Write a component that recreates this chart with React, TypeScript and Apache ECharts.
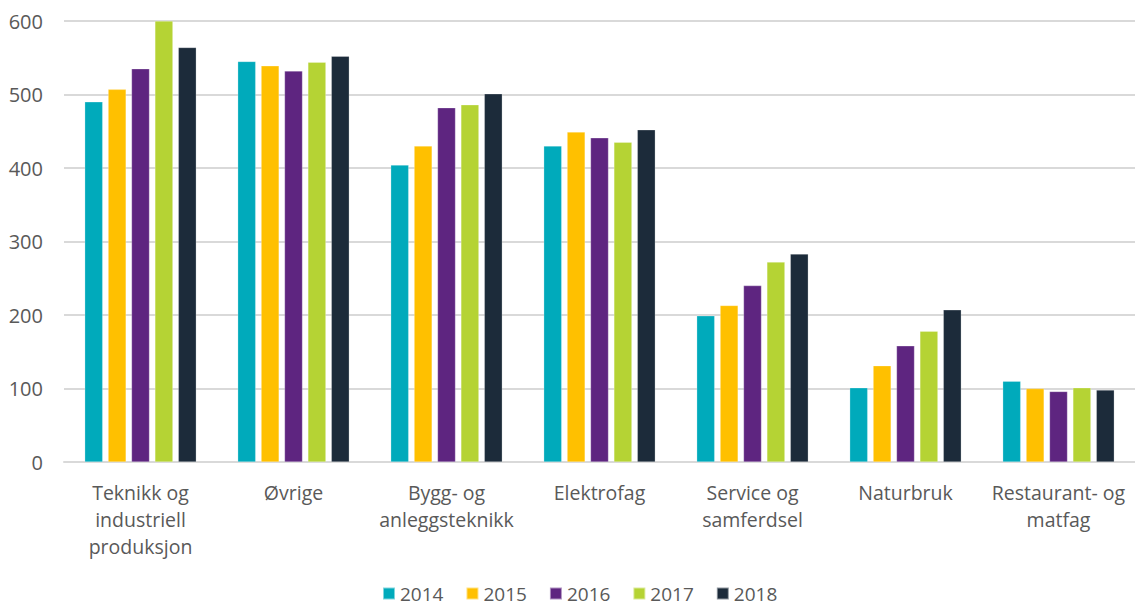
import React, { useEffect, useRef } from "react";
import * as echarts from "echarts";

const categories = [
  "Teknikk og\nindustriell\nproduksjon",
  "Øvrige",
  "Bygg- og\nanleggsteknikk",
  "Elektrofag",
  "Service og\nsamferdsel",
  "Naturbruk",
  "Restaurant- og\nmatfag",
];
const years = ["2014", "2015", "2016", "2017", "2018"];
const v2014 = [490, 545, 404, 430, 199, 101, 110];
const v2015 = [507, 539, 430, 449, 213, 131, 100];
const v2016 = [535, 532, 482, 441, 240, 158, 96];
const v2017 = [600, 544, 486, 435, 272, 178, 101];
const v2018 = [564, 552, 501, 452, 283, 207, 98];
const seriesValues = [v2014, v2015, v2016, v2017, v2018];
const colors = ["#00AABB", "#FFC000", "#5E2580", "#B5D334", "#1C2B3A"];
const yTicks = [0, 100, 200, 300, 400, 500, 600];

const FONT = "'Open Sans', 'Noto Sans', sans-serif";

export default function App() {
  const ref = useRef<HTMLDivElement>(null);
  useEffect(() => {
    if (!ref.current) return;
    const chart = echarts.init(ref.current, null, { renderer: "svg" });
    chart.setOption({
      animation: false,
      backgroundColor: "#ffffff",
      grid: { left: 64, right: 0, top: 21, bottom: 143, containLabel: false },
      legend: {
        data: years,
        left: 382,
        top: 584,
        padding: 0,
        icon: "rect",
        itemWidth: 12,
        itemHeight: 12,
        itemGap: 22,
        textStyle: { color: "#595959", fontSize: 19, fontFamily: FONT },
      },
      xAxis: {
        type: "category",
        data: categories,
        axisLine: { show: true, lineStyle: { color: "#d9d9d9", width: 2 } },
        axisTick: { show: false },
        axisLabel: {
          color: "#595959",
          fontSize: 19.5,
          fontFamily: FONT,
          lineHeight: 27,
          margin: 17,
          interval: 0,
        },
      },
      yAxis: {
        type: "value",
        min: yTicks[0],
        max: yTicks[yTicks.length - 1],
        interval: 100,
        axisLine: { show: false },
        axisTick: { show: false },
        splitLine: { lineStyle: { color: "#d9d9d9", width: 2 } },
        axisLabel: {
          color: "#595959",
          fontSize: 20,
          fontFamily: FONT,
          margin: 21,
        },
      },
      series: years.map((y, i) => ({
        name: y,
        type: "bar",
        data: seriesValues[i],
        barWidth: 18,
        barGap: "30%",
        itemStyle: { color: colors[i], borderColor: "rgba(255,255,255,0.5)", borderWidth: 0.5 },
      })),
    });
    return () => chart.dispose();
  }, []);
  return (
    <div
      ref={ref}
      style={{ position: "fixed", left: 0, top: 0, width: 1135, height: 605 }}
    />
  );
}
